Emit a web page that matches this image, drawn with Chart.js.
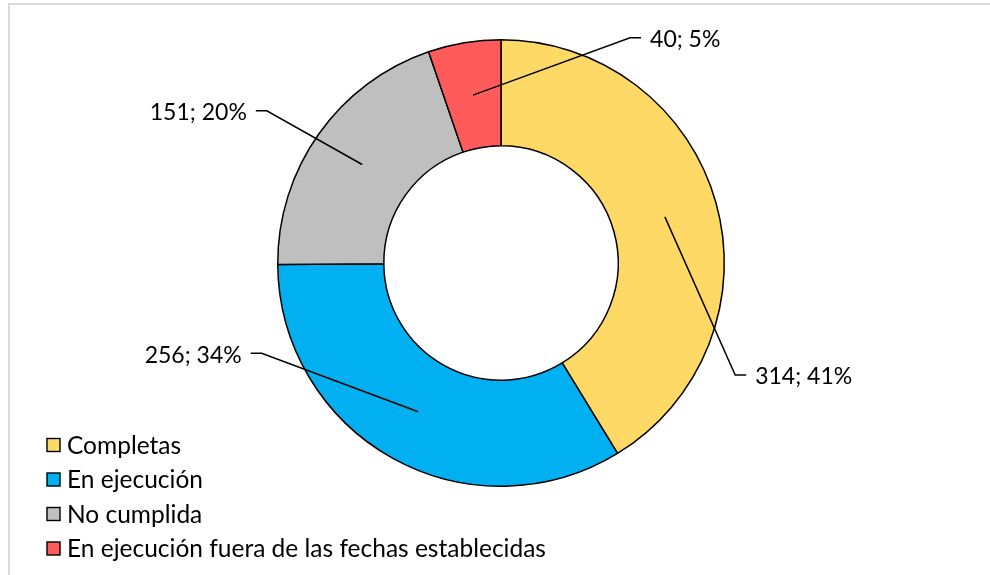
<!DOCTYPE html>
<html>
<head>
<meta charset="utf-8">
<script src="https://cdn.jsdelivr.net/npm/chart.js@4"></script>
<style>
    html, body { margin: 0; padding: 0; background: #fff; overflow: hidden; }
    #wrap { position: relative; width: 990px; height: 575px; }
    #frame { position: absolute; left: 8px; top: 3px; width: 1000px; height: 1000px;
             border: 2px solid #d9d9d9; box-sizing: border-box; pointer-events: none; }
</style>
</head>
<body>
<div id="wrap">
    <canvas id="statusChart" width="990" height="575"></canvas>
    <div id="frame"></div>
</div>
<script>
// Estado de las actividades
const categories = ['Completas', 'En ejecución', 'No cumplida', 'En ejecución fuera de las fechas establecidas'];
const values = [314, 256, 151, 40];
const colors = ['#FFD966', '#00B0F0', '#BFBFBF', '#FF5B5B'];

// where each data label sits, relative to centre, in outer-radius units
const labelSpots = [
    { x: 1.049, y: 0.502, side: 'right' },
    { x: -1.072, y: 0.404, side: 'left' },
    { x: -1.049, y: -0.682, side: 'left' },
    { x: 0.578, y: -1.009, side: 'right' }
];

const LABEL_FONT = '23px Lato, "Open Sans", sans-serif';
const LEGEND_FONT = '24.5px Lato, "Open Sans", sans-serif';

const leaderLabels = {
    id: 'leaderLabels',
    afterDatasetsDraw(chart) {
        const ctx = chart.ctx;
        const meta = chart.getDatasetMeta(0);
        const total = values.reduce((a, b) => a + b, 0);
        ctx.save();
        ctx.font = LABEL_FONT;
        ctx.textBaseline = 'middle';
        meta.data.forEach((arc, i) => {
            const p = arc.getProps(['x', 'y', 'startAngle', 'endAngle', 'innerRadius', 'outerRadius'], true);
            const mid = (p.startAngle + p.endAngle) / 2;
            const r = (p.innerRadius + p.outerRadius) / 2;
            const ax = p.x + Math.cos(mid) * r;
            const ay = p.y + Math.sin(mid) * r;
            const spot = labelSpots[i];
            const ex = p.x + spot.x * p.outerRadius;
            const ey = p.y + spot.y * p.outerRadius;
            const dir = spot.side === 'right' ? 1 : -1;
            const hx = ex + dir * 11;

            ctx.strokeStyle = '#000';
            ctx.lineWidth = 1.5;
            ctx.beginPath();
            ctx.moveTo(ax, ay);
            ctx.lineTo(ex, ey);
            ctx.lineTo(hx, ey);
            ctx.stroke();

            const text = values[i] + '; ' + Math.round(values[i] / total * 100) + '%';
            ctx.fillStyle = '#000';
            ctx.textAlign = dir > 0 ? 'left' : 'right';
            ctx.fillText(text, hx + dir * 9, ey + 2);
        });
        ctx.restore();
    }
};

const sideLegend = {
    id: 'sideLegend',
    afterDraw(chart) {
        const ctx = chart.ctx;
        ctx.save();
        ctx.font = LEGEND_FONT;
        ctx.textBaseline = 'middle';
        ctx.textAlign = 'left';
        categories.forEach((name, i) => {
            const y = 445 + i * 34.5;
            ctx.fillStyle = colors[i];
            ctx.fillRect(47, y - 6.5, 13, 13);
            ctx.strokeStyle = '#000';
            ctx.lineWidth = 1.4;
            ctx.strokeRect(47, y - 6.5, 13, 13);
            ctx.fillStyle = '#000';
            ctx.fillText(name, 67, y + 1);
        });
        ctx.restore();
    }
};

new Chart(document.getElementById('statusChart'), {
    type: 'doughnut',
    data: {
        labels: categories,
        datasets: [{
            data: values,
            backgroundColor: colors,
            borderColor: '#000',
            borderWidth: 1.5
        }]
    },
    options: {
        responsive: false,
        animation: false,
        cutout: '52.5%',
        layout: { padding: { top: 39, bottom: 88, left: 12, right: 0 } },
        plugins: {
            legend: { display: false },
            tooltip: { enabled: false }
        }
    },
    plugins: [leaderLabels, sideLegend]
});
</script>
</body>
</html>
